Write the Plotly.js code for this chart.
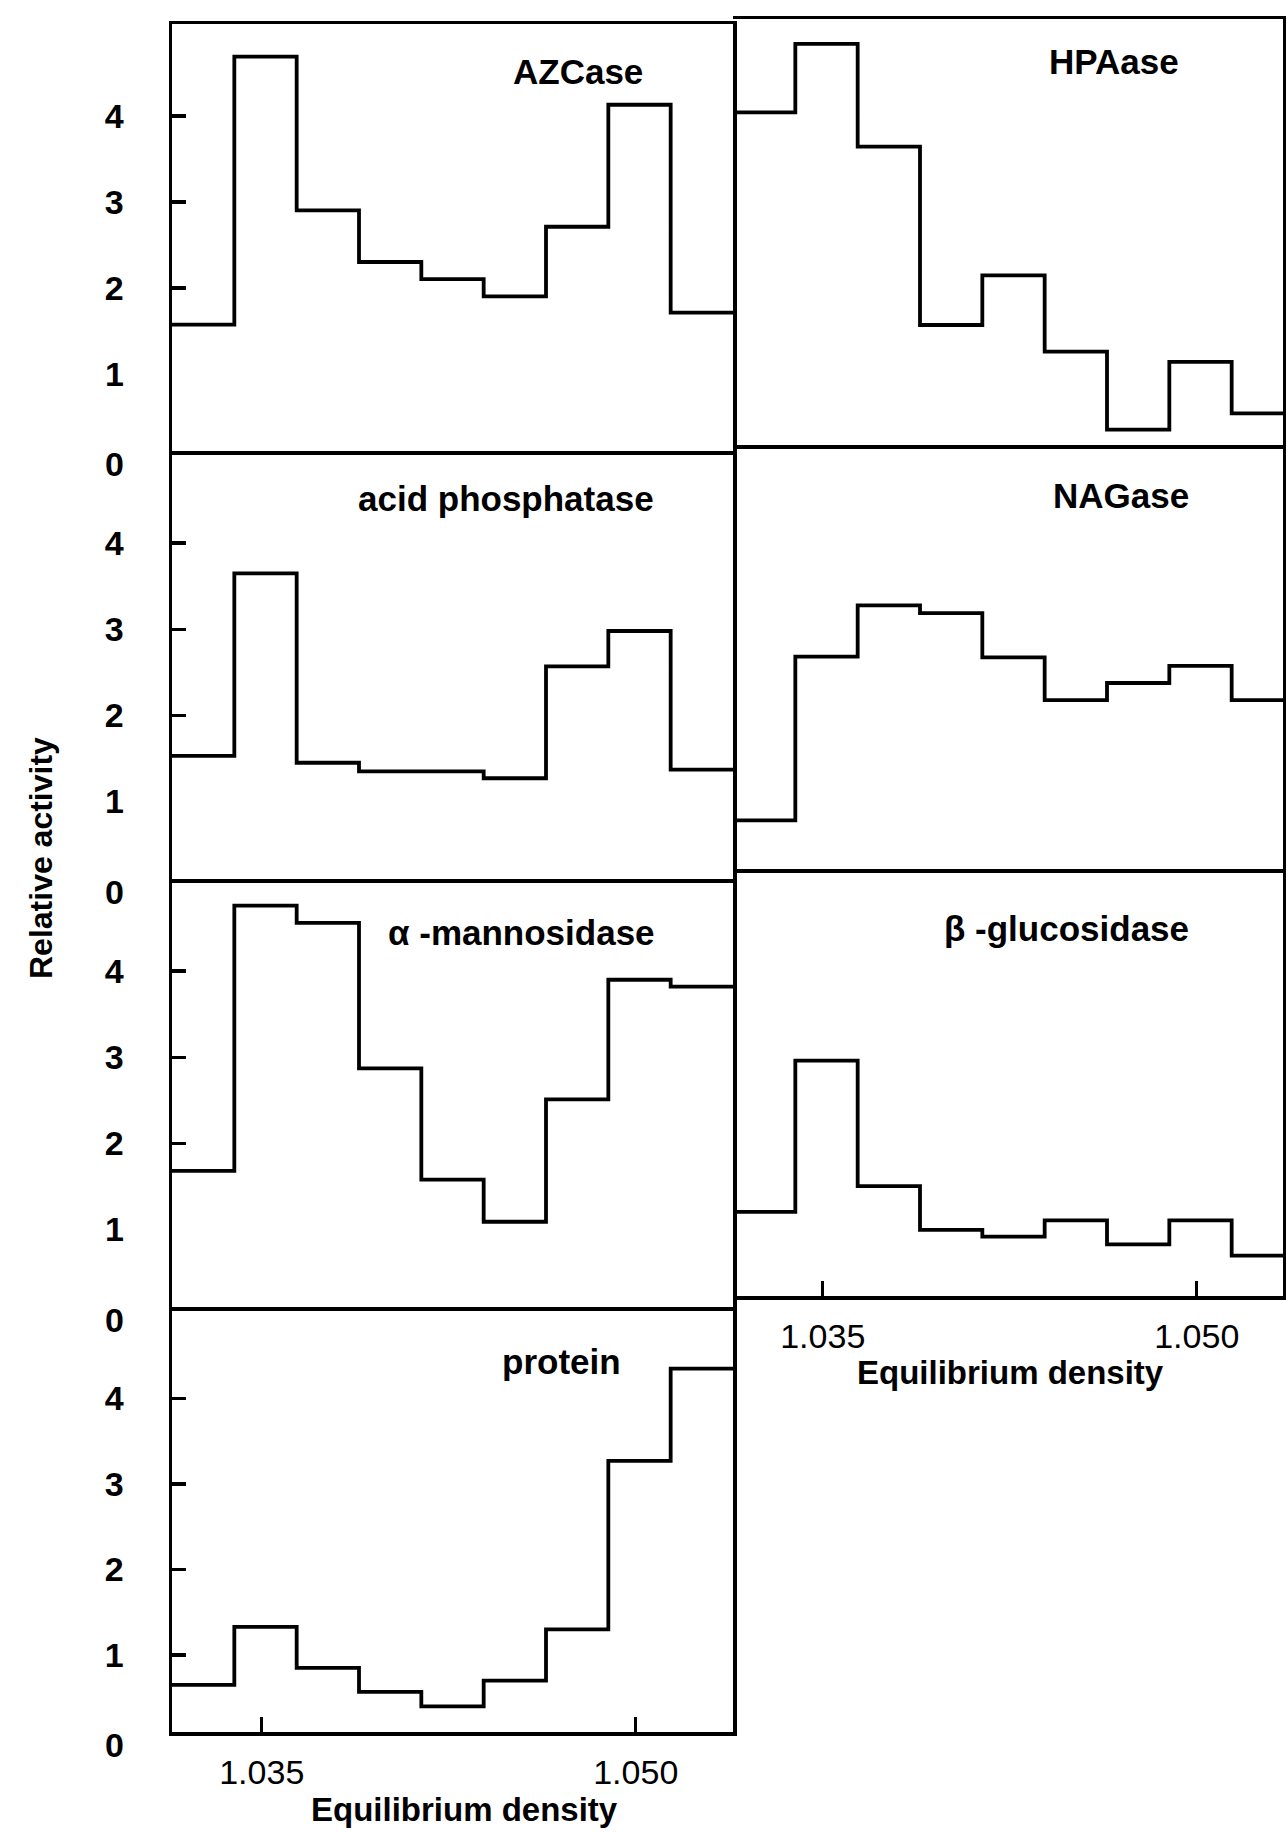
<!DOCTYPE html>
<html>
<head>
<meta charset="utf-8">
<script src="https://cdn.plot.ly/plotly-3.0.1.min.js"></script>
<style>html,body{margin:0;padding:0;background:#fff;overflow:hidden}</style>
</head>
<body>
<div id="chart" style="width:1286px;height:1832px"></div>
<script>
// Fraction density bin edges (g/ml)
const densityEdges = [1.0314, 1.0339, 1.0364, 1.0389, 1.0414, 1.0439, 1.0464, 1.0489, 1.0514, 1.0539];
const densityTickVals = [1.035, 1.050];
const densityTickText = ["1.035", "1.050"];
const activityTickVals = [1, 2, 3, 4];

// Relative activity per fraction
const azcase           = [1.57, 4.69, 2.90, 2.30, 2.10, 1.90, 2.71, 4.13, 1.71];
const acidPhosphatase  = [1.53, 3.65, 1.45, 1.35, 1.35, 1.27, 2.57, 2.98, 1.37];
const alphaMannosidase = [1.68, 4.76, 4.56, 2.87, 1.58, 1.09, 2.51, 3.90, 3.82];
const protein          = [0.65, 1.33, 0.85, 0.57, 0.40, 0.70, 1.30, 3.27, 4.35];
const hpaase           = [3.98, 4.78, 3.58, 1.50, 2.08, 1.19, 0.28, 1.07, 0.47];
const nagase           = [0.67, 2.59, 3.19, 3.10, 2.58, 2.08, 2.28, 2.48, 2.08];
const betaGlucosidase  = [1.08, 2.84, 1.38, 0.87, 0.79, 0.98, 0.70, 0.98, 0.57];

const panelNames = ["AZCase", "acid phosphatase", "α -mannosidase", "protein", "HPAase", "NAGase", "β -glucosidase"];
const panelData = [azcase, acidPhosphatase, alphaMannosidase, protein, hpaase, nagase, betaGlucosidase];

// ---- layout geometry (pixels) ----
const W = 1286, H = 1832;
const FONT = "Liberation Sans, Arial, Helvetica, sans-serif";
const LW = 3.5;
const px = p => p / W;
const py = p => 1 - p / H;
const panels = [
  {col: 0, top: 24,  bot: 451,  first: true,  label: [578, 72]},
  {col: 0, top: 451, bot: 879,  first: false, label: [506, 499]},
  {col: 0, top: 879, bot: 1307, first: false, label: [521, 932]},
  {col: 0, top: 1307, bot: 1732, first: false, label: [561, 1361]},
  {col: 1, top: 19,  bot: 445,  first: true,  label: [1114, 62]},
  {col: 1, top: 445, bot: 869,  first: false, label: [1121, 496]},
  {col: 1, top: 869, bot: 1296, first: false, label: [1066, 929]}
];
const cols = [{l: 172, r: 733}, {l: 733, r: 1283}];
const pxPerUnitX = (cols[0].r - cols[0].l) / (densityEdges[densityEdges.length - 1] - densityEdges[0]);
const yRange = [0.1, 5.07];

const traces = [];
const layout = {
  width: W, height: H,
  margin: {l: 0, r: 0, t: 0, b: 0},
  paper_bgcolor: "#ffffff", plot_bgcolor: "#ffffff",
  showlegend: false,
  font: {family: FONT, color: "#000"},
  annotations: []
};
const labelFont = {family: FONT, size: 34, color: "#000", weight: "bold"};

panels.forEach((p, i) => {
  const n = i + 1;
  const xs = n === 1 ? "x" : "x" + n;
  const ys = n === 1 ? "y" : "y" + n;
  const vals = panelData[i];
  traces.push({
    type: "scatter", mode: "lines",
    x: densityEdges,
    y: vals.concat([vals[vals.length - 1]]),
    line: {shape: "hv", color: "#000", width: 3.8},
    xaxis: xs, yaxis: ys, hoverinfo: "skip"
  });
  const c = cols[p.col];
  const xr1 = densityEdges[0] + (c.r - c.l) / pxPerUnitX;
  const isBottom = (n === 4 || n === 7);
  const left = p.col === 0;
  layout["xaxis" + (n === 1 ? "" : n)] = {
    domain: [px(c.l), px(c.r)],
    anchor: ys,
    range: [densityEdges[0], xr1],
    showgrid: false, zeroline: false,
    showline: true, mirror: p.first, linecolor: "#000", linewidth: LW,
    ticks: isBottom ? "inside" : "",
    ticklen: 15, tickwidth: 3, tickcolor: "#000",
    tickvals: densityTickVals, ticktext: densityTickText,
    showticklabels: isBottom,
    ticklabelstandoff: 8,
    tickfont: {family: FONT, size: 34, color: "#000"},
    fixedrange: true
  };
  // the top three left panels carry tick marks only at 2, 3, 4; "1" is a plain label
  const tv = (left && !isBottom) ? activityTickVals.slice(1) : activityTickVals;
  layout["yaxis" + (n === 1 ? "" : n)] = {
    domain: [py(p.bot), py(p.top)],
    anchor: xs,
    side: left ? "left" : "right",
    range: yRange,
    showgrid: false, zeroline: false,
    showline: true, mirror: left, linecolor: "#000", linewidth: LW,
    ticks: left ? "inside" : "",
    ticklen: 14, tickwidth: 3.5, tickcolor: "#000",
    tickvals: tv,
    showticklabels: left,
    ticklabelstandoff: 38,
    tickfont: labelFont,
    fixedrange: true
  };
  // panel name
  layout.annotations.push({
    text: panelNames[i], xref: "paper", yref: "paper",
    x: px(p.label[0]), y: py(p.label[1]), xanchor: "center", yanchor: "middle",
    showarrow: false, font: {family: FONT, size: 35, color: "#000", weight: "bold"}
  });
  if (left) {
    // "0" label just below the bottom frame of each left panel
    layout.annotations.push({
      text: "0", xref: xs + " domain", yref: ys + " domain",
      x: 0, y: 0, xanchor: "right", yanchor: "middle", xshift: -46, yshift: -13,
      showarrow: false, font: labelFont
    });
    if (!isBottom) {
      layout.annotations.push({
        text: String(activityTickVals[0]), xref: xs + " domain", yref: ys,
        x: 0, y: activityTickVals[0], xanchor: "right", yanchor: "middle", xshift: -46,
        showarrow: false, font: labelFont
      });
    }
  }
});

// axis titles
layout.annotations.push({
  text: "Relative activity", xref: "paper", yref: "paper",
  x: px(41), y: py(858), xanchor: "center", yanchor: "middle", textangle: -90,
  showarrow: false, font: {family: FONT, size: 32, color: "#000", weight: "bold"}
});
layout.annotations.push({
  text: "Equilibrium density", xref: "paper", yref: "paper",
  x: px(464), y: py(1809), xanchor: "center", yanchor: "middle",
  showarrow: false, font: {family: FONT, size: 33, color: "#000", weight: "bold"}
});
layout.annotations.push({
  text: "Equilibrium density", xref: "paper", yref: "paper",
  x: px(1010), y: py(1372), xanchor: "center", yanchor: "middle",
  showarrow: false, font: {family: FONT, size: 33, color: "#000", weight: "bold"}
});

Plotly.newPlot("chart", traces, layout, {staticPlot: true, displayModeBar: false});
</script>
</body>
</html>
